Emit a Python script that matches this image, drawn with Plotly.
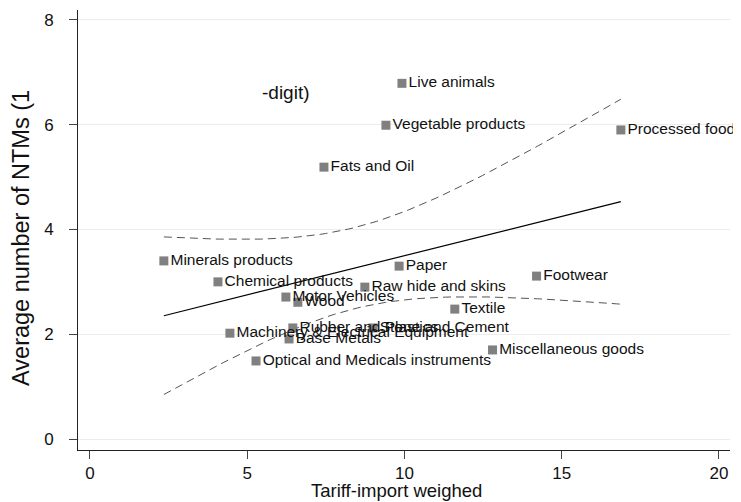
import numpy as np
import plotly.graph_objects as go

categories = ["Live animals", "Vegetable products", "Processed food", "Fats and Oil",
              "Minerals products", "Paper", "Footwear", "Chemical products",
              "Raw hide and skins", "Motor Vehicles", "Wood", "Textile",
              "Rubber and Plastics", "Stone and Cement", "Machinery & Electrical Equipment",
              "Base Metals", "Miscellaneous goods", "Optical and Medicals instruments"]
tariff = [9.92, 9.41, 16.88, 7.44, 2.35, 9.83, 14.2, 4.07, 8.74, 6.23, 6.61, 11.6,
          6.45, 9.0, 4.45, 6.33, 12.8, 5.28]
ntms = [6.79, 5.99, 5.9, 5.19, 3.40, 3.30, 3.11, 3.0, 2.9, 2.71, 2.61, 2.48,
        2.12, 2.12, 2.02, 1.91, 1.70, 1.49]
x_ticks = [0, 5, 10, 15, 20]
y_ticks = [0, 2, 4, 6, 8]

x = np.array(tariff)
y = np.array(ntms)
n = len(x)
slope, intercept = np.polyfit(x, y, 1)
xbar = x.mean()
sxx = ((x - xbar) ** 2).sum()
resid = y - (intercept + slope * x)
s = np.sqrt((resid ** 2).sum() / (n - 2))
t_crit = 2.1199  # t(0.975, df=16)
xg = np.linspace(x.min(), x.max(), 100)
yfit = intercept + slope * xg
half = t_crit * s * np.sqrt(1.0 / n + (xg - xbar) ** 2 / sxx)

font = "Liberation Sans, Arial, sans-serif"
fig = go.Figure()
fig.add_trace(go.Scatter(x=xg, y=yfit + half, mode="lines",
                         line=dict(color="#555555", width=1, dash="8px,5px"), hoverinfo="skip"))
fig.add_trace(go.Scatter(x=xg, y=yfit - half, mode="lines",
                         line=dict(color="#555555", width=1, dash="8px,5px"), hoverinfo="skip"))
fig.add_trace(go.Scatter(x=xg, y=yfit, mode="lines",
                         line=dict(color="#000000", width=1.2), hoverinfo="skip"))
fig.add_trace(go.Scatter(x=tariff, y=ntms, mode="markers+text", text=categories,
                         textposition="middle right", cliponaxis=False,
                         textfont=dict(family=font, size=15.5, color="#111111"),
                         marker=dict(symbol="square", size=9, color="#808080")))

fig.add_annotation(x=5.4, y=6.62, xref="x", yref="y", text="-digit)", showarrow=False,
                   xanchor="left", yanchor="middle", font=dict(family=font, size=19, color="#111111"))
fig.add_annotation(x=-0.0874, y=0.482, xref="paper", yref="paper", textangle=-90,
                   text="Average number of NTMs (1", showarrow=False,
                   xanchor="center", yanchor="middle", font=dict(family=font, size=23.5, color="#111111"))
fig.add_annotation(x=0.489, y=-0.091, xref="paper", yref="paper",
                   text="Tariff-import weighed", showarrow=False,
                   xanchor="center", yanchor="middle", font=dict(family=font, size=18.5, color="#111111"))

fig.update_layout(
    width=733, height=494, showlegend=False,
    plot_bgcolor="white", paper_bgcolor="white",
    margin=dict(l=70, r=11, t=2, b=52),
    font=dict(family=font, color="#111111"),
    xaxis=dict(range=[-0.38, 20.35], tickvals=x_ticks, showgrid=False, zeroline=False,
               showline=True, linecolor="#222222", linewidth=1, ticks="outside", ticklen=8,
               tickcolor="#444444", tickfont=dict(size=17), automargin=False),
    yaxis=dict(range=[-0.21, 8.19], tickvals=y_ticks, showgrid=True, gridcolor="#ececec",
               zeroline=False, showline=True, linecolor="#222222", linewidth=1,
               ticks="outside", ticklen=8, tickcolor="#444444", tickfont=dict(size=17),
               ticklabelstandoff=12, automargin=False),
)
fig.write_html("out.html")
